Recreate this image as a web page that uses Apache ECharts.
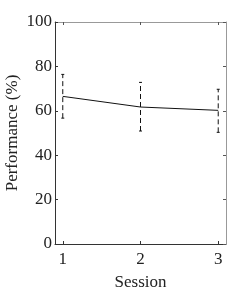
<!DOCTYPE html>
<html><head><meta charset="utf-8">
<script src="https://cdn.jsdelivr.net/npm/echarts@6/dist/echarts.min.js"></script>
<style>html,body{margin:0;padding:0;background:#fff}#c{width:249px;height:291px}</style>
</head><body><div id="c"></div>
<script>
var sessions = [1, 2, 3];
var means = [66.5, 61.7, 60.2];
var upper = [76.4, 72.8, 69.7];
var lower = [56.7, 50.9, 50.3];

var chart = echarts.init(document.getElementById('c'));
var font = '"Liberation Serif", "Times New Roman", serif';
var lineData = sessions.map(function(s, i){ return [s, means[i]]; });
var errData = sessions.map(function(s, i){ return [s, lower[i], upper[i]]; });

chart.setOption({
  animation: false,
  grid: {left: 55, right: 23, top: 22, bottom: 47, containLabel: false, outerBoundsMode: 'none'},
  xAxis: [{
    type: 'value', min: 0.9, max: 3.1,
    axisLine: {show: true, onZero: false, lineStyle: {color: '#333', width: 1}},
    axisTick: {show: true, inside: true, length: 3, lineStyle: {color: '#333'},
      customValues: sessions},
    axisLabel: {fontFamily: font, fontSize: 17, color: '#222', margin: 7,
      customValues: sessions},
    splitLine: {show: false},
    name: 'Session', nameLocation: 'middle', nameGap: 30, nameMoveOverlap: false,
    nameTextStyle: {fontFamily: font, fontSize: 17, color: '#222'}
  }, {
    type: 'value', min: 0.9, max: 3.1, position: 'top',
    axisLine: {show: true, onZero: false, lineStyle: {color: '#999', width: 1}},
    axisTick: {show: true, inside: true, length: 3, lineStyle: {color: '#555'}, customValues: sessions},
    axisLabel: {show: false}, splitLine: {show: false}
  }],
  yAxis: [{
    type: 'value', min: 0, max: 100, interval: 20,
    axisLine: {show: true, onZero: false, lineStyle: {color: '#333', width: 1}},
    axisTick: {show: true, inside: true, length: 3, lineStyle: {color: '#333'}},
    axisLabel: {fontFamily: font, fontSize: 17, color: '#222', margin: 3},
    splitLine: {show: false},
    name: 'Performance (%)', nameLocation: 'middle', nameGap: 34, nameMoveOverlap: false,
    nameTextStyle: {fontFamily: font, fontSize: 17, color: '#222'}
  }, {
    type: 'value', min: 0, max: 100, interval: 20, position: 'right',
    axisLine: {show: true, onZero: false, lineStyle: {color: '#999', width: 1}},
    axisTick: {show: true, inside: true, length: 3, lineStyle: {color: '#555'}},
    axisLabel: {show: false}, splitLine: {show: false}
  }],
  series: [{
    type: 'line', data: lineData, symbol: 'none',
    lineStyle: {color: '#111', width: 1}
  }, {
    type: 'custom', data: errData,
    renderItem: function(params, api){
      var x = api.value(0);
      var lo = api.coord([x, api.value(1)]);
      var hi = api.coord([x, api.value(2)]);
      var cap = 1.5;
      return {type: 'group', children: [
        {type: 'line', shape: {x1: lo[0], y1: lo[1], x2: hi[0], y2: hi[1]},
          style: {stroke: '#111', lineWidth: 1, lineDash: [5, 3]}},
        {type: 'line', shape: {x1: lo[0]-cap, y1: lo[1], x2: lo[0]+cap, y2: lo[1]},
          style: {stroke: '#111', lineWidth: 1}},
        {type: 'line', shape: {x1: hi[0]-cap, y1: hi[1], x2: hi[0]+cap, y2: hi[1]},
          style: {stroke: '#111', lineWidth: 1}}
      ]};
    }
  }]
});
</script></body></html>
